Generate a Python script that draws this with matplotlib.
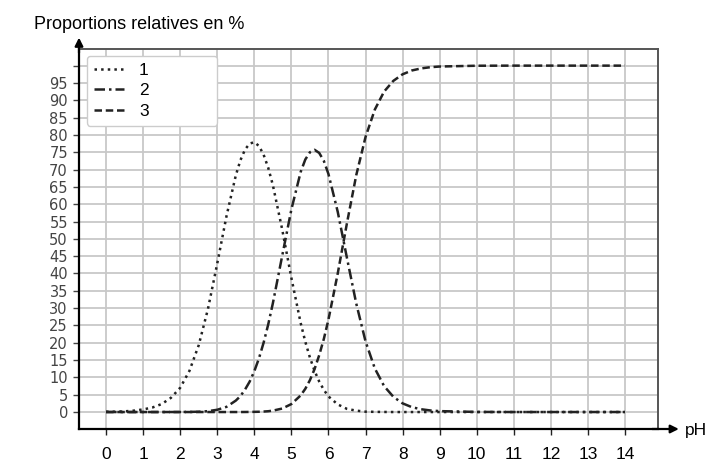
import matplotlib
matplotlib.use("Agg")
import matplotlib.pyplot as plt

# pH values
ph = [0, 0.25, 0.5, 0.75, 1.0, 1.25, 1.5, 1.75, 2.0, 2.25, 2.5, 2.75, 3.0, 3.25,
      3.5, 3.625, 3.75, 3.875, 4.0, 4.125, 4.25, 4.375, 4.5, 4.75, 5.0, 5.25,
      5.375, 5.5, 5.625, 5.75, 5.875, 6.0, 6.25, 6.5,
      6.75, 7.0, 7.25, 7.5, 7.75, 8.0, 8.25, 8.5, 8.75, 9.0, 10, 11, 12, 13, 14]

# Species 1 (dotted)
s1 = [0.1, 0.1, 0.2, 0.4, 0.75, 1.3, 2.3, 4.1, 7.0, 11.9, 19.3, 29.8, 42.9, 56.6,
      68.3, 72.7, 75.8, 77.5, 77.9, 76.8, 74.3, 70.5, 65.5, 52.8, 38.7, 25.7,
      20.3, 15.7, 11.9, 8.8, 6.4, 4.5, 2.2, 0.9,
      0.4, 0.1, 0.05, 0.02, 0, 0, 0, 0, 0, 0, 0, 0, 0, 0, 0]

# Species 2 (dash-dot)
s2 = [0, 0, 0, 0, 0, 0, 0, 0, 0.01, 0.03, 0.09, 0.25, 0.65, 1.5,
      3.3, 4.6, 6.5, 8.8, 11.8, 15.5, 20.0, 25.3, 31.4, 45.0, 58.5, 69.3,
      72.9, 75.0, 75.7, 74.8, 72.5, 68.7, 57.8, 44.4,
      31.3, 20.4, 12.6, 7.5, 4.4, 2.5, 1.4, 0.8, 0.45, 0.26, 0.03, 0, 0, 0, 0]

# Species 3 (dashed)
s3 = [0, 0, 0, 0, 0, 0, 0, 0, 0, 0, 0, 0, 0, 0,
      0, 0, 0.01, 0.03, 0.05, 0.08, 0.14, 0.23, 0.4, 1.0, 2.3, 4.8,
      6.7, 9.2, 12.4, 16.4, 21.1, 26.7, 40.0, 54.6,
      68.4, 79.4, 87.3, 92.5, 95.6, 97.5, 98.6, 99.2, 99.55, 99.74, 99.97, 100, 100, 100, 100]

labels = ["1", "2", "3"]
xticks = list(range(0, 15))
yticks = list(range(0, 101, 5))
yticklabels = [str(v) if v < 100 else "" for v in yticks]

fig = plt.figure(figsize=(7.25, 4.72), dpi=100)
ax = fig.add_axes([79/725, 1 - 429/472, 579/725, 380/472])

lc = "#222222"
lw = 1.8
ax.plot(ph, s1, linestyle=":", color=lc, lw=lw, label=labels[0])
ax.plot(ph, s2, linestyle=(0, (4.2, 1.6, 1.0, 1.6)), color=lc, lw=lw, label=labels[1])
ax.plot(ph, s3, linestyle=(0, (3.0, 1.5)), color=lc, lw=lw, label=labels[2])

ax.set_xlim(-0.73, 14.89)
ax.set_ylim(-4.9, 104.8)
ax.set_xticks(xticks)
ax.set_yticks(yticks)
ax.set_yticklabels(yticklabels)
ax.grid(True, color="#c8c8c8", lw=1.3)
ax.set_axisbelow(True)

for lab in ax.get_xticklabels():
    lab.set_family("Liberation Sans")
    lab.set_fontsize(12.5)
    lab.set_color("black")
for lab in ax.get_yticklabels():
    lab.set_family("DejaVu Sans")
    lab.set_fontsize(10.5)
    lab.set_color("#444444")
ax.tick_params(axis="x", length=4, width=1, pad=9, colors="#222222", labelcolor="black")
ax.tick_params(axis="y", length=4, width=1, pad=4, colors="#444444", labelcolor="#444444")

for side in ["left", "bottom"]:
    ax.spines[side].set_color("black")
    ax.spines[side].set_linewidth(1.6)
for side in ["top", "right"]:
    ax.spines[side].set_color("#555555")
    ax.spines[side].set_linewidth(1.4)

# axis arrows
ax.annotate("", xy=(1.036, 0), xycoords="axes fraction", xytext=(0.99, 0),
            arrowprops=dict(arrowstyle="-|>", color="black", lw=1.6,
                            mutation_scale=12, shrinkA=0, shrinkB=0),
            annotation_clip=False)
ax.annotate("", xy=(0, 1.03), xycoords="axes fraction", xytext=(0, 0.99),
            arrowprops=dict(arrowstyle="-|>", color="black", lw=1.6,
                            mutation_scale=12, shrinkA=0, shrinkB=0),
            annotation_clip=False)

leg = ax.legend(loc="upper left", bbox_to_anchor=(0.0138, 0.5, 0.2245, 0.4816),
                mode="expand", borderaxespad=0, frameon=True, fancybox=True,
                prop={"family": "Liberation Sans", "size": 12.5},
                handlelength=1.75, handletextpad=0.85, labelspacing=0.3,
                borderpad=0.4)
leg.get_frame().set_edgecolor("#cccccc")
leg.get_frame().set_linewidth(1.0)
leg.get_frame().set_alpha(1.0)

fig.text(34/725, 1 - 29/472, "Proportions relatives en %", family="Liberation Sans",
         fontsize=13, va="baseline", ha="left", color="black")
fig.text(685/725, 1 - 435/472, "pH", family="Liberation Sans",
         fontsize=12.5, va="baseline", ha="left", color="black")

fig.savefig("out.png", dpi=100)
